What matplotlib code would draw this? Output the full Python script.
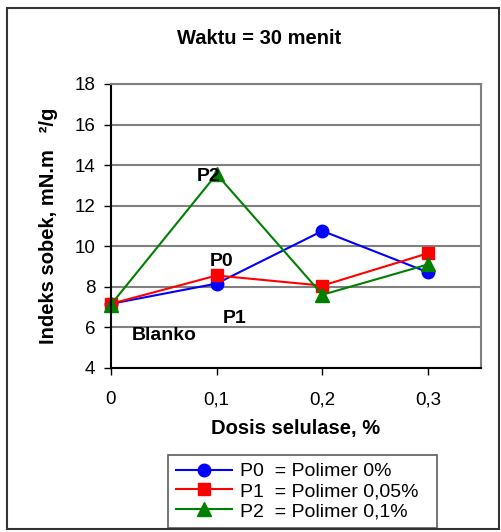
import matplotlib
matplotlib.use("Agg")
import matplotlib.pyplot as plt
from matplotlib.patches import Rectangle

plt.rcParams['font.family'] = ['Liberation Sans', 'DejaVu Sans']

dosis = [0, 0.1, 0.2, 0.3]
x_labels = ['0', '0,1', '0,2', '0,3']
p0 = [7.15, 8.15, 10.75, 8.7]
p1 = [7.15, 8.55, 8.05, 9.65]
p2 = [7.1, 13.55, 7.6, 9.1]
series_labels = ['P0  = Polimer 0%', 'P1  = Polimer 0,05%', 'P2  = Polimer 0,1%']
y_ticks = [4, 6, 8, 10, 12, 14, 16, 18]

W, H = 502, 532
fig = plt.figure(figsize=(W / 100, H / 100), dpi=100)
fig.patch.set_facecolor('white')

# outer border
fig.patches.append(Rectangle((7 / W, 1 - 529 / H), 492 / W, 521 / H,
                             transform=fig.transFigure, fill=False,
                             edgecolor='#333333', linewidth=1.5))

ax = fig.add_axes([110.7 / W, 1 - 367.7 / H, 370.5 / W, 283.7 / H])

ax.plot(dosis, p0, color='#0000ff', marker='o', markersize=9, linewidth=1.5,
        label=series_labels[0], clip_on=False)
ax.plot(dosis, p1, color='#ff0000', marker='s', markersize=8.5, linewidth=1.5,
        label=series_labels[1], clip_on=False)
ax.plot(dosis, p2, color='#008000', marker='^', markersize=9.5, linewidth=1.5,
        label=series_labels[2], clip_on=False)

ax.set_xlim(0, 0.35)
ax.set_ylim(4, 18)
ax.set_yticks(y_ticks)
ax.set_yticklabels([str(v) for v in y_ticks], fontsize=13.5)
ax.set_xticks(dosis)
ax.set_xticklabels(x_labels, fontsize=13.5)
ax.tick_params(axis='both', direction='out', length=5, width=1, color='black')
ax.tick_params(axis='x', pad=12)
ax.tick_params(axis='y', pad=6)
ax.yaxis.grid(True, color='#808080', linewidth=1.5)
ax.set_axisbelow(True)

ax.spines['left'].set_color('black')
ax.spines['bottom'].set_color('black')
ax.spines['top'].set_color('#808080')
ax.spines['right'].set_color('#808080')
for s in ax.spines.values():
    s.set_linewidth(1.5)

ax.set_xlabel('Dosis selulase, %', fontsize=14.5, fontweight='bold', labelpad=8)
ax.set_ylabel('Indeks sobek, mN.m   ²/g', fontsize=14.5, fontweight='bold', labelpad=12)

fig.text(259 / W, 1 - 38 / H, 'Waktu = 30 menit', ha='center', va='center',
         fontsize=14.5, fontweight='bold')

for txt, tx, ty in [('P2', 0.0927, 13.42), ('P0', 0.105, 9.25),
                    ('P1', 0.1173, 6.44), ('Blanko', 0.0503, 5.61)]:
    ax.text(tx, ty, txt, ha='center', va='center', fontsize=14,
            fontweight='bold')

leg = fig.legend(loc='lower left',
                 bbox_to_anchor=(168 / W, 1 - 528 / H, 269 / W, 73 / H),
                 mode='expand',
                 fontsize=14, frameon=True, fancybox=False,
                 handlelength=2.9, borderpad=0.4, labelspacing=0.12,
                 handletextpad=0.4, borderaxespad=0)
leg.get_frame().set_edgecolor('#333333')
leg.get_frame().set_linewidth(1.2)

fig.savefig('out.png', dpi=100)
